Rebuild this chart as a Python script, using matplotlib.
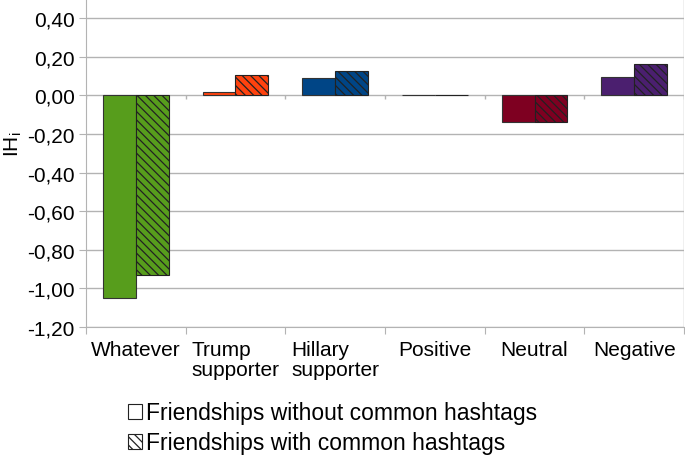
import numpy as np
import matplotlib
matplotlib.use('Agg')
from matplotlib import pyplot as plt
from matplotlib.patches import Patch
from matplotlib.ticker import FuncFormatter

plt.rcParams['font.family'] = ['Liberation Sans', 'DejaVu Sans']
plt.rcParams['hatch.linewidth'] = 0.9

categories = ['Whatever', 'Trump\nsupporter', 'Hillary\nsupporter',
              'Positive', 'Neutral', 'Negative']
without_common = [-1.05, 0.02, 0.09, 0.002, -0.14, 0.095]
with_common = [-0.93, 0.108, 0.127, 0.002, -0.136, 0.163]
colors = ['#579d1c', '#ff420e', '#004586', '#8a7a10', '#7e0021', '#4b1f6f']
legend_labels = ['Friendships without common hashtags',
                 'Friendships with common hashtags']

fig = plt.figure(figsize=(6.85, 4.56), dpi=100, facecolor='w')
ax = fig.add_axes([86 / 685, 1 - 328 / 456, 598 / 685, 328 / 456])

x = np.arange(len(categories))
width = 0.33
ax.bar(x - width / 2, without_common, width, color=colors,
       edgecolor='#333333', linewidth=0.8, zorder=3)
ax.bar(x + width / 2, with_common, width, color=colors,
       edgecolor='#222222', linewidth=0.8, hatch='\\\\\\\\', zorder=3)

ax.set_xlim(-0.5, len(categories) - 0.5)
ax.set_ylim(-1.2, 0.5)
ax.set_yticks(np.arange(-1.2, 0.41, 0.2))
ax.yaxis.set_major_formatter(FuncFormatter(lambda v, p: f'{v:.2f}'.replace('.', ',').replace('-0,00', '0,00')))
ax.grid(axis='y', color='#b3b3b3', linewidth=1, zorder=0)

# group boundary ticks
bounds = np.arange(len(categories) + 1) - 0.5
ax.set_xticks(bounds)
ax.set_xticklabels([])
ax.set_xticks(x, minor=True)
ax.set_xticklabels(categories, minor=True, fontsize=15,
                   multialignment='left', linespacing=1.1)
ax.tick_params(axis='x', which='minor', length=0, pad=9)
ax.tick_params(axis='x', which='major', length=5, color='#b3b3b3')
ax.tick_params(axis='y', length=5, color='#b3b3b3', labelsize=15, pad=3)
ax.vlines(bounds, -0.018, 0, color='#b3b3b3', linewidth=1, zorder=2)

for side in ['top', 'right']:
    ax.spines[side].set_visible(False)
for side in ['left', 'bottom']:
    ax.spines[side].set_color('#b3b3b3')
ax.axvline(len(categories) - 0.5, color='#b3b3b3', linewidth=1)

ax.set_ylabel(r'IH$_\mathregular{i}$', fontsize=15)
ax.yaxis.set_label_coords(-0.104, 0.56)

handles = [Patch(facecolor='white', edgecolor='#222222', linewidth=0.8),
           Patch(facecolor='white', edgecolor='#222222', linewidth=0.8,
                 hatch='\\\\\\\\')]
fig.legend(handles, legend_labels, loc='upper left',
           bbox_to_anchor=(117 / 685, 1 - 391 / 456), frameon=False,
           fontsize=16.5, handlelength=0.6, handleheight=0.6,
           handletextpad=0.15, labelspacing=0.3, borderpad=0)

fig.savefig('out.png', dpi=100, facecolor='w')
